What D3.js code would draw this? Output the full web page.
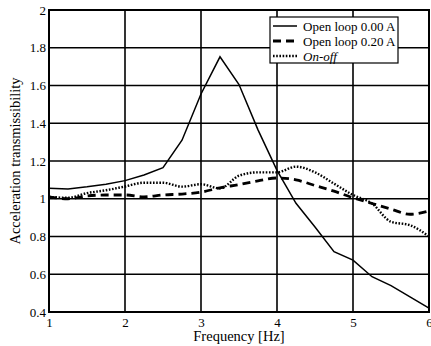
<!DOCTYPE html>
<html>
<head>
<meta charset="utf-8">
<script src="https://cdn.jsdelivr.net/npm/d3@7"></script>
<style>
  body { margin: 0; background: #fff; }
  text { font-family: "Liberation Serif", "Times New Roman", serif; fill: #000; }
</style>
</head>
<body>
<div id="chart"></div>
<script>
// frequency steps (Hz)
const freq = [1, 1.25, 1.5, 1.75, 2, 2.25, 2.5, 2.75, 3, 3.25, 3.5, 3.75, 4, 4.25, 4.5, 4.75, 5, 5.25, 5.5, 5.75, 6];
const open000 = [1.055, 1.052, 1.063, 1.077, 1.096, 1.126, 1.165, 1.31, 1.555, 1.752, 1.605, 1.365, 1.15, 0.976, 0.85, 0.72, 0.675, 0.587, 0.54, 0.48, 0.42];
const open020 = [1.01, 1.0, 1.015, 1.02, 1.02, 1.01, 1.02, 1.025, 1.035, 1.058, 1.075, 1.095, 1.11, 1.1, 1.07, 1.04, 1.005, 0.975, 0.945, 0.918, 0.935];
const onoff = [1.01, 1.005, 1.03, 1.045, 1.065, 1.085, 1.085, 1.064, 1.077, 1.055, 1.122, 1.14, 1.14, 1.17, 1.14, 1.08, 1.02, 0.975, 0.878, 0.86, 0.8];
const xTicks = [1, 2, 3, 4, 5, 6];
const yTicks = [0.4, 0.6, 0.8, 1, 1.2, 1.4, 1.6, 1.8, 2];
const seriesNames = ["Open loop 0.00 A", "Open loop 0.20 A", "On-off"];

const width = 431, height = 346;
const margin = {top: 10, right: 2, bottom: 34, left: 49};

const svg = d3.select("#chart").append("svg")
  .attr("width", width)
  .attr("height", height);

const x = d3.scaleLinear().domain([1, 6]).range([margin.left, width - margin.right]);
const y = d3.scaleLinear().domain([0.4, 2]).range([height - margin.bottom, margin.top]);

// grid
svg.append("g").selectAll("line")
  .data(yTicks)
  .enter().append("line")
  .attr("x1", x(1)).attr("x2", x(6))
  .attr("y1", d => y(d)).attr("y2", d => y(d))
  .attr("stroke", "#000").attr("stroke-width", 1.4);

svg.append("g").selectAll("line")
  .data(xTicks)
  .enter().append("line")
  .attr("x1", d => x(d)).attr("x2", d => x(d))
  .attr("y1", y(0.4)).attr("y2", y(2))
  .attr("stroke", "#000").attr("stroke-width", 1.6);

// frame
svg.append("rect")
  .attr("x", x(1)).attr("y", y(2))
  .attr("width", x(6) - x(1)).attr("height", y(0.4) - y(2))
  .attr("fill", "none").attr("stroke", "#000").attr("stroke-width", 2);

// axes (labels only)
const xAxis = svg.append("g")
  .attr("transform", "translate(0," + y(0.4) + ")")
  .call(d3.axisBottom(x).tickValues(xTicks).tickFormat(d3.format("d")).tickSize(0).tickPadding(6));
const yAxis = svg.append("g")
  .attr("transform", "translate(" + x(1) + ",0)")
  .call(d3.axisLeft(y).tickValues(yTicks).tickFormat(d => d3.format("")(+d.toFixed(1))).tickSize(0).tickPadding(3));
[xAxis, yAxis].forEach(a => {
  a.select(".domain").remove();
  a.selectAll("text").style("font-family", "'Liberation Serif', serif").style("font-size", "13px").attr("fill", "#000");
});

// lines
const line = vals => d3.line()
  .x((d, i) => x(freq[i]))
  .y(d => y(d))(vals);
const smooth = vals => d3.line()
  .curve(d3.curveMonotoneX)
  .x((d, i) => x(freq[i]))
  .y(d => y(d))(vals);

svg.append("path").attr("d", smooth(open020))
  .attr("fill", "none").attr("stroke", "#000").attr("stroke-width", 2.8)
  .attr("stroke-dasharray", "8,5");
svg.append("path").attr("d", smooth(onoff))
  .attr("fill", "none").attr("stroke", "#000").attr("stroke-width", 2.4)
  .attr("stroke-dasharray", "1.6,1.6");
svg.append("path").attr("d", line(open000))
  .attr("fill", "none").attr("stroke", "#000").attr("stroke-width", 1.5);

// legend
const lg = svg.append("g").attr("transform", "translate(270,17)");
lg.append("rect").attr("width", 128).attr("height", 46)
  .attr("fill", "#fff").attr("stroke", "#000").attr("stroke-width", 1.2);
const styles = [
  {w: 1.5, dash: null},
  {w: 2.8, dash: "8,5"},
  {w: 2.4, dash: "1.6,1.6"}
];
seriesNames.forEach((name, i) => {
  const yy = 9 + i * 15;
  lg.append("line").attr("x1", 3).attr("x2", 27).attr("y1", yy).attr("y2", yy)
    .attr("stroke", "#000").attr("stroke-width", styles[i].w)
    .attr("stroke-dasharray", styles[i].dash);
  lg.append("text").attr("x", 33).attr("y", yy + 4.5)
    .style("font-size", "13px")
    .style("font-style", i === 2 ? "italic" : "normal")
    .text(name);
});

// axis titles
svg.append("text")
  .attr("x", (x(1) + x(6)) / 2).attr("y", 341)
  .attr("text-anchor", "middle")
  .style("font-size", "14.5px")
  .text("Frequency [Hz]");
svg.append("text")
  .attr("transform", "translate(20," + (y(1.2)) + ") rotate(-90)")
  .attr("text-anchor", "middle")
  .style("font-size", "14.5px")
  .text("Acceleration transmissibility");
</script>
</body>
</html>
